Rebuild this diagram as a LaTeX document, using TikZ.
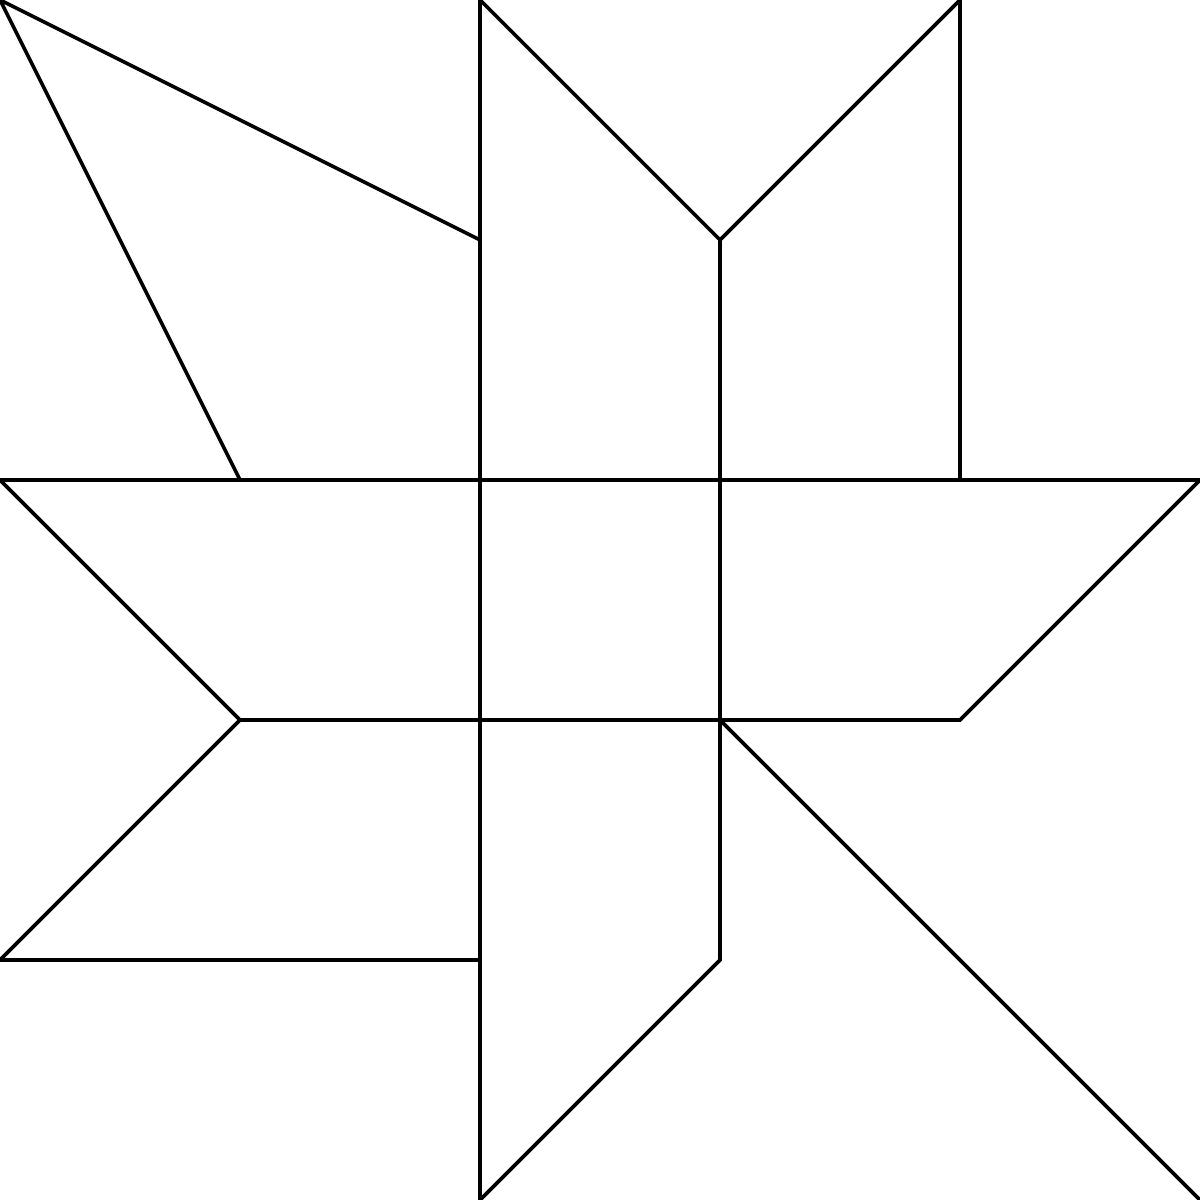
\documentclass[tikz,border=0pt]{standalone}
\begin{document}
\begin{tikzpicture}[x=2cm,y=2cm,edge/.style={draw=black,line width=0.85pt,line join=miter}]
\useasboundingbox (0,0) rectangle (5,5);
\coordinate (a) at (0,5);
\coordinate (b) at (2,4);
\coordinate (c) at (1,3);
\coordinate (d) at (2,5);
\coordinate (e) at (2,0);
\coordinate (f) at (3,4);
\coordinate (g) at (4,5);
\coordinate (h) at (4,3);
\coordinate (i) at (3,1);
\coordinate (j) at (0,3);
\coordinate (k) at (5,3);
\coordinate (l) at (1,2);
\coordinate (m) at (4,2);
\coordinate (n) at (0,1);
\coordinate (o) at (2,1);
\coordinate (p) at (3,2);
\coordinate (q) at (5,0);
\draw[edge] (b) -- (a) -- (c);
\draw[edge] (e) -- (d) -- (f) -- (g) -- (h);
\draw[edge] (f) -- (i) -- (e);
\draw[edge] (j) -- (k) -- (m) -- (l) -- (j);
\draw[edge] (l) -- (n) -- (o);
\draw[edge] (p) -- (q);
\end{tikzpicture}
\end{document}
